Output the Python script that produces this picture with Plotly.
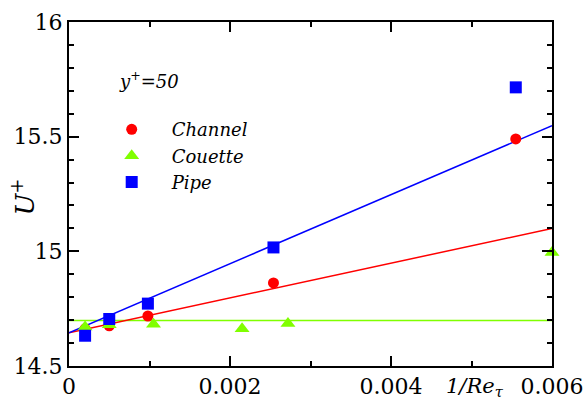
import plotly.graph_objects as go

# Data
channel_x = [0.0002, 0.0005, 0.00098, 0.00254, 0.00555]
channel_y = [14.662, 14.675, 14.718, 14.862, 15.49]
couette_x = [0.0002, 0.0005, 0.00105, 0.00215, 0.00272, 0.006]
couette_y = [14.67, 14.68, 14.682, 14.662, 14.685, 14.995]
pipe_x = [0.0002, 0.0005, 0.00098, 0.00254, 0.00555]
pipe_y = [14.632, 14.705, 14.772, 15.017, 15.715]

fit_x = [0.0, 0.006]
channel_fit = [14.645, 15.10]
couette_fit = [14.698, 14.698]
pipe_fit = [14.645, 15.548]

red = "#ff0000"
green = "#80ff00"
blue = "#0000ff"
FONT = "DejaVu Serif"

fig = go.Figure()
fig.add_trace(go.Scatter(x=fit_x, y=couette_fit, mode="lines", line=dict(color=green, width=1.5), showlegend=False))
fig.add_trace(go.Scatter(x=fit_x, y=channel_fit, mode="lines", line=dict(color=red, width=1.5), showlegend=False))
fig.add_trace(go.Scatter(x=fit_x, y=pipe_fit, mode="lines", line=dict(color=blue, width=1.5), showlegend=False))

fig.add_trace(go.Scatter(x=channel_x, y=channel_y, mode="markers", name="<i>Channel</i>",
                         marker=dict(symbol="circle", size=11, color=red)))
fig.add_trace(go.Scatter(x=couette_x, y=couette_y, mode="markers", name="<i>Couette</i>",
                         marker=dict(symbol="triangle-up", size=13, color=green), cliponaxis=False))
fig.add_trace(go.Scatter(x=pipe_x, y=pipe_y, mode="markers", name="<i>Pipe</i>",
                         marker=dict(symbol="square", size=12, color=blue)))

axis_common = dict(
    showgrid=False, zeroline=False, showline=True, linecolor="black", linewidth=2,
    mirror="allticks", ticks="inside", ticklen=10, tickwidth=1.5, tickcolor="black",
    tickfont=dict(family=FONT, size=22, color="black"), automargin=False,
    ticklabeloverflow="allow",
)

fig.update_xaxes(range=[0, 0.006], tickvals=[0, 0.002, 0.004, 0.006],
                 ticktext=["0", "0.002", "0.004", "0.006"],
                 minor=dict(ticks="inside", ticklen=5, dtick=0.001, tick0=0, tickcolor="black", tickwidth=1.5),
                 **axis_common)
fig.update_yaxes(range=[14.5, 16], tickvals=[14.5, 15, 15.5, 16],
                 ticktext=["14.5", "15", "15.5", "16"],
                 minor=dict(ticks="inside", ticklen=5, dtick=0.1, tick0=14.5, tickcolor="black", tickwidth=1.5),
                 **axis_common)

fig.add_annotation(x=-0.095, y=0.49, xref="paper", yref="paper", xanchor="center", yanchor="middle",
                   text="<i>U</i><sup>+</sup>", showarrow=False, textangle=-90,
                   font=dict(family=FONT, size=26, color="black"))
fig.add_annotation(x=0.84, y=-0.105, xref="paper", yref="paper", xanchor="center", yanchor="bottom",
                   text="<i>1/Re</i><sub><i>τ</i></sub>", showarrow=False,
                   font=dict(family=FONT, size=21, color="black"))
fig.add_annotation(x=0.1, y=0.83, xref="paper", yref="paper", xanchor="left", yanchor="middle",
                   text="<i>y</i><sup>+</sup><i>=50</i>", showarrow=False,
                   font=dict(family=FONT, size=18, color="black"))

fig.update_layout(
    width=586, height=405,
    margin=dict(l=69, r=34, t=22, b=39),
    plot_bgcolor="white", paper_bgcolor="white",
    font=dict(family=FONT, color="black"),
    legend=dict(x=0.047, y=0.741, xanchor="left", yanchor="top", bgcolor="rgba(0,0,0,0)",
                font=dict(family=FONT, size=18, color="black"), itemwidth=70, tracegroupgap=0),
)

fig.write_html("out.html")
